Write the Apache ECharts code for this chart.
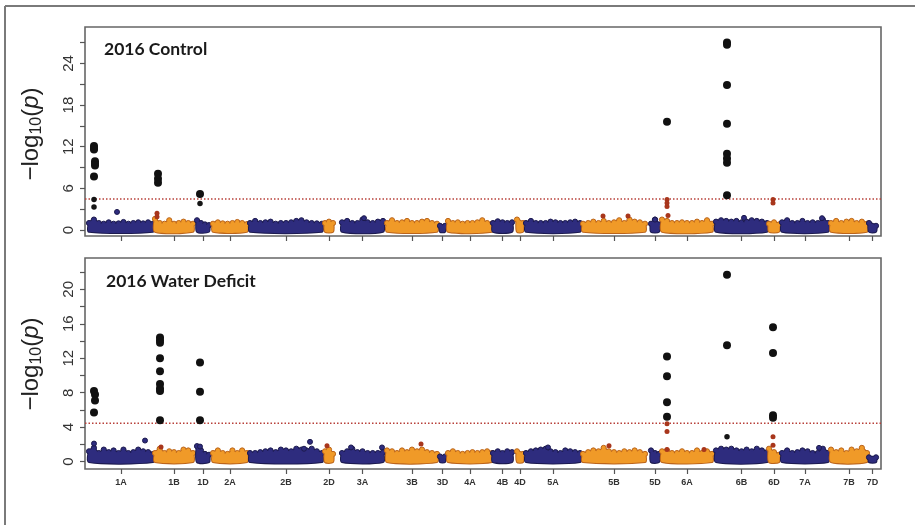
<!DOCTYPE html>
<html>
<head>
<meta charset="utf-8">
<script src="https://cdn.jsdelivr.net/npm/echarts@6/dist/echarts.min.js"></script>
<style>
html,body{margin:0;padding:0;background:#fff;}
#chart{width:915px;height:525px;}
</style>
</head>
<body>
<div id="chart"></div>
<script>
// ---- chromosome layout (cumulative marker position units) ----
const chromosomes = ['1A','1B','1D','2A','2B','2D','3A','3B','3D','4A','4B','4D','5A','5B','5D','6A','6B','6D','7A','7B','7D'];
const chrStart = [4,70,112,128,165,240,257,302,355,363,408,432,441,498,566,577,631,684,697,746,784];
const chrEnd   = [68,108,124,162,237,248,298,352,360,407,427,438,495,560,574,627,682,694,743,782,791];
const xMax = 796;

// ---- 2016 Control: upper envelope of the dense low -log10(p) cloud per chromosome ----
const ctrlProfile = [
  [1.0,1.5,1.0,0.9,1.1,0.9,0.95,1.15,0.9,1.0,1.1,0.95,1.1,0.9],
  [1.6,1.0,0.9,1.4,0.9,1.0,1.2,1.0,0.9],
  [1.4,1.0,0.8,0.7],
  [0.9,1.1,0.95,0.9,1.0,1.15,1.0,0.85],
  [1.0,1.3,1.0,1.1,1.2,0.9,1.0,1.0,1.1,1.3,1.4,1.1,1.0,0.95,0.9],
  [1.0,1.2,1.0],
  [1.1,1.3,1.0,1.0,1.5,1.1,1.0,1.2,1.3],
  [1.0,1.4,1.0,1.1,1.3,1.0,1.0,1.2,1.3,1.0,0.9],
  [0.6,0.6],
  [1.3,1.0,1.1,0.9,1.0,1.0,1.1,1.4,1.0,0.9],
  [1.0,1.25,1.1,1.0,1.1],
  [1.5,1.0],
  [1.0,1.3,1.0,1.0,1.0,1.2,1.1,1.0,1.0,1.1,1.2,1.0],
  [0.9,1.0,1.2,1.0,1.3,1.0,1.1,1.4,1.0,1.5,1.2,1.1,0.9],
  [0.9,1.5,0.8],
  [1.5,1.3,1.0,1.0,1.1,1.0,1.0,1.2,1.0,1.4,0.9],
  [1.2,1.4,1.3,1.2,1.3,1.1,1.2,1.4,1.3,1.2,1.0],
  [0.9,1.1,0.8],
  [1.1,1.4,1.0,1.0,1.3,1.0,1.1,1.0,1.5,1.0],
  [1.0,1.3,1.0,1.2,1.3,1.0,1.2,0.9],
  [1.0,0.6]
];
const ctrlSig  = [[9,12.1],[9,11.8],[9,11.6],[10,9.9],[10,9.6],[10,9.3],[9,7.7],[73,8.1],[73,7.4],[73,6.8],[115,5.2],[582,15.6],[642,27.0],[642,26.7],[642,20.9],[642,15.3],[642,11.0],[642,10.3],[642,9.7],[642,5.0]];
const ctrlSub  = [[9,4.4],[9,3.3],[115,3.8]];
const ctrlRed  = [[582,4.4],[582,3.9],[582,3.4],[688,4.4],[688,3.9],[72,2.4],[72,1.9],[518,2.0],[543,2.0],[583,2.1]];
const ctrlBlue = [[32,2.6],[279,1.7],[659,1.75],[737,1.7],[570,1.5]];

// ---- 2016 Water Deficit ----
const wdProfile = [
  [1.2,1.6,1.0,1.4,1.1,1.3,1.0,1.4,1.0,1.1,1.4,1.2,1.1,0.9],
  [1.0,1.5,1.0,1.2,1.1,1.0,1.4,1.3,1.0],
  [1.8,1.3,0.9,0.8],
  [1.0,1.3,1.0,0.9,1.3,1.0,1.3,1.0],
  [1.0,1.0,1.1,1.2,1.3,1.1,1.4,1.3,1.2,1.5,1.4,1.3,1.5,1.2,1.0],
  [1.2,1.4,0.9],
  [1.0,1.2,1.5,1.1,1.2,1.0,1.0,1.0,1.1],
  [1.3,1.2,1.0,1.3,1.1,1.4,1.2,1.4,1.1,1.0,0.9],
  [0.6,0.6],
  [1.0,1.2,1.0,0.9,1.0,1.1,1.0,1.1,1.2,1.0],
  [1.0,1.2,1.0,1.2,1.1],
  [1.2,0.9],
  [1.0,1.2,1.3,1.4,1.5,1.2,1.1,1.0,1.3,1.2,1.1,1.0],
  [0.9,1.1,1.3,1.2,1.6,1.2,1.1,1.0,1.2,1.1,1.3,1.1,0.9],
  [1.3,1.0,0.9],
  [1.2,1.3,1.0,1.0,1.2,1.0,1.0,1.3,1.0,1.2,0.9],
  [1.3,1.5,1.4,1.5,1.3,1.2,1.4,1.2,1.5,1.3,1.1],
  [1.5,1.1,0.8],
  [1.0,1.3,1.0,1.1,1.3,1.2,1.0,1.0,1.5,1.0],
  [1.4,1.1,1.3,1.0,1.4,1.2,1.6,1.0],
  [0.5,0.5]
];
const wdSig  = [[9,8.2],[10,7.8],[10,7.1],[9,5.7],[75,14.4],[75,14.1],[75,13.8],[75,12.0],[75,10.5],[75,9.0],[75,8.5],[75,8.2],[75,4.8],[115,11.5],[115,8.1],[115,4.8],[582,12.2],[582,9.9],[582,6.9],[582,5.2],[642,21.7],[642,13.5],[688,15.6],[688,12.6],[688,5.4],[688,5.1]];
const wdSub  = [[642,2.9]];
const wdRed  = [[582,4.4],[582,3.5],[582,1.4],[688,2.9],[688,1.9],[242,1.85],[336,2.05],[619,1.4],[524,1.85],[76,1.7]];
const wdBlue = [[9,2.1],[60,2.45],[225,2.3],[219,1.5],[266,1.65],[297,1.65],[115,1.75],[463,1.65],[734,1.6]];

// ---- axes ----
const ctrlRange = [-0.865, 29.25];
const wdRange = [-0.85, 23.63];
const ctrlTicks = [0,3,6,9,12,15,18,21,24,27];
const ctrlLabels = [0,6,12,18,24];
const wdTicks = [0,2,4,6,8,10,12,14,16,18,20,22];
const wdLabels = [0,4,8,12,16,20];
const threshold = 4.45;
const panelTitles = ['2016 Control', '2016 Water Deficit'];
const cloudBase = [-0.25, -0.05];

const BLUE = '#2e2c7e', BLUE_EDGE = '#1c1a4e';
const ORANGE = '#f09a28', ORANGE_EDGE = '#bb641b';
const RED = '#a8361c';

const centers = chromosomes.map((c, i) => (chrStart[i] + chrEnd[i]) / 2);

const chart = echarts.init(document.getElementById('chart'), null, {renderer: 'canvas'});
const grids = [
  {left: 85, right: 34, top: 27, height: 209},
  {left: 85, right: 34, top: 258, height: 211}
];

function xAxisFor(gi, showLabels) {
  return {
    type: 'value', gridIndex: gi, min: 0, max: xMax,
    axisLine: {show: false, onZero: false},
    splitLine: {show: false},
    axisTick: {show: true, customValues: centers, length: 5, lineStyle: {color: '#555', width: 1.2}},
    axisLabel: {
      show: showLabels, customValues: centers, margin: 9,
      fontSize: 9, fontWeight: 'bold', color: '#333', fontFamily: 'Liberation Sans',
      formatter: v => { const k = centers.findIndex(c => Math.abs(c - v) < 0.01); return k >= 0 ? chromosomes[k] : ''; }
    }
  };
}
function yAxisFor(gi, range, ticks, labels) {
  return {
    type: 'value', gridIndex: gi, min: range[0], max: range[1],
    axisLine: {show: false, onZero: false},
    splitLine: {show: false},
    axisTick: {show: true, customValues: ticks, length: 5, lineStyle: {color: '#555', width: 1.2}},
    axisLabel: {customValues: labels, rotate: 90, margin: 9, fontSize: 15, color: '#333', fontFamily: 'Liberation Sans'}
  };
}

function cloudSeries(gi, profiles, base) {
  return {
    type: 'custom', xAxisIndex: gi, yAxisIndex: gi, z: 2, silent: true,
    data: chromosomes.map((c, i) => [i]),
    renderItem: function (params, api) {
      const k = api.value(0);
      const prof = profiles[k];
      const n = prof.length;
      const pts = [];
      for (let j = 0; j < n; j++) {
        const x = chrStart[k] + (n === 1 ? 0 : j * (chrEnd[k] - chrStart[k]) / (n - 1));
        pts.push(api.coord([x, prof[j]]));
      }
      const isBlue = k % 2 === 0;
      const fill = isBlue ? BLUE : ORANGE, edge = isBlue ? BLUE_EDGE : ORANGE_EDGE;
      const poly = pts.concat([api.coord([chrEnd[k], base]), api.coord([chrStart[k], base])]);
      const children = [{
        type: 'polygon',
        shape: {points: poly, smooth: 0.25},
        style: {fill: fill, stroke: edge, lineWidth: 2, lineJoin: 'round'}
      }];
      pts.forEach(p => children.push({
        type: 'circle', shape: {cx: p[0], cy: p[1], r: 2.6},
        style: {fill: fill, stroke: edge, lineWidth: 1}
      }));
      // inner fill pass hides circle strokes inside the cloud body
      children.push({
        type: 'polygon',
        shape: {points: poly, smooth: 0.25},
        style: {fill: fill, stroke: null}
      });
      return {type: 'group', children: children};
    }
  };
}
function scatter(gi, data, size, color, border, z) {
  return {
    type: 'scatter', xAxisIndex: gi, yAxisIndex: gi, data: data, symbolSize: size, z: z, silent: true,
    itemStyle: {color: color, borderColor: border, borderWidth: border ? 1 : 0, opacity: 1}
  };
}
function thresholdSeries(gi) {
  return {
    type: 'line', xAxisIndex: gi, yAxisIndex: gi, data: [[0, threshold], [xMax, threshold]],
    symbol: 'none', silent: true, z: 1,
    lineStyle: {color: '#b8403a', width: 1.5, type: [1.5, 2]}
  };
}

function yTitle(cy) {
  return {
    type: 'text', x: 31, y: cy, rotation: Math.PI / 2, silent: true,
    style: {
      text: '{m|\u2212log}{s|10}{m|(}{i|p}{m|)}',
      align: 'center', verticalAlign: 'middle',
      rich: {
        m: {fontSize: 24, fontFamily: 'Liberation Sans', fill: '#222', lineHeight: 28, verticalAlign: 'middle'},
        s: {fontSize: 16, fontFamily: 'Liberation Sans', fill: '#222', lineHeight: 16, verticalAlign: 'bottom'},
        i: {fontSize: 24, fontFamily: 'Liberation Sans', fontStyle: 'italic', fill: '#222', lineHeight: 28, verticalAlign: 'middle'}
      }
    }
  };
}

const option = {
  animation: false,
  backgroundColor: '#fff',
  grid: grids.map(g => Object.assign({show: true, borderColor: '#666', borderWidth: 1.6, backgroundColor: 'transparent'}, g)),
  xAxis: [xAxisFor(0, false), xAxisFor(1, true)],
  yAxis: [yAxisFor(0, ctrlRange, ctrlTicks, ctrlLabels), yAxisFor(1, wdRange, wdTicks, wdLabels)],
  series: [
    thresholdSeries(0), thresholdSeries(1),
    cloudSeries(0, ctrlProfile, cloudBase[0]), cloudSeries(1, wdProfile, cloudBase[1]),
    scatter(0, ctrlBlue, 5, BLUE, BLUE_EDGE, 3), scatter(1, wdBlue, 5, BLUE, BLUE_EDGE, 3),
    scatter(0, ctrlRed, 5, RED, null, 4), scatter(1, wdRed, 5, RED, null, 4),
    scatter(0, ctrlSub, 5.5, '#151515', null, 5), scatter(1, wdSub, 5.5, '#151515', null, 5),
    scatter(0, ctrlSig, 8, '#111', null, 6), scatter(1, wdSig, 8, '#111', null, 6)
  ],
  graphic: [
    {type: 'line', silent: true, shape: {x1: 5, y1: 6, x2: 915, y2: 6}, style: {stroke: '#7a7a7a', lineWidth: 2}},
    {type: 'line', silent: true, shape: {x1: 5, y1: 6, x2: 5, y2: 525}, style: {stroke: '#7a7a7a', lineWidth: 2}},
    {type: 'text', left: 104, top: 40, silent: true, style: {text: panelTitles[0], font: 'bold 17.5px Lato', fill: '#1a1a1a'}},
    {type: 'text', left: 106, top: 272, silent: true, style: {text: panelTitles[1], font: 'bold 17.5px Lato', fill: '#1a1a1a'}},
    yTitle(134), yTitle(364)
  ]
};
chart.setOption(option);
</script>
</body>
</html>
